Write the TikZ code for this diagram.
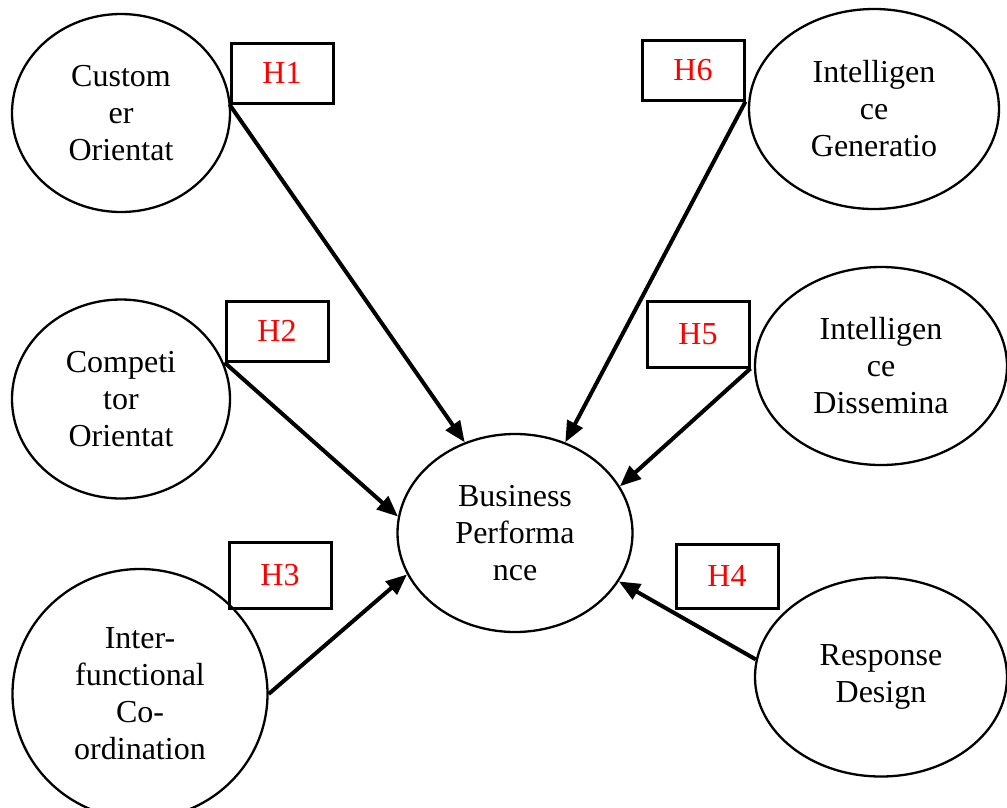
\documentclass[tikz,border=0pt]{standalone}
\usepackage{fontspec}
\setmainfont{Liberation Serif}
\usetikzlibrary{arrows.meta,shapes.geometric}

\tikzset{
  factor/.style={ellipse,draw,line width=2.3pt,inner sep=0pt,align=center,
    font=\fontsize{32}{37}\selectfont},
  hyp/.style={rectangle,draw,line width=3pt,minimum width=102pt,minimum height=62pt,
    inner sep=0pt,text=red,font=\fontsize{32}{37}\selectfont},
  link/.style={line width=4pt,-{Triangle[length=21pt,width=17pt]}}
}

\begin{document}
\begin{tikzpicture}[x=1pt,y=-1pt]
    \useasboundingbox (0,0) rectangle (1007,807);
    % nodes
    \node (co) at (121,113) [factor,minimum width=218pt,minimum height=198pt] {Custom\\er\\Orientat};
    \node (cp) at (121,399) [factor,minimum width=218pt,minimum height=199pt] {Competi\\tor\\Orientat};
    \node (ifc) at (140,694) [factor,minimum width=255pt,minimum height=250pt] {Inter-\\functional\\Co-\\ordination};
    \node (ig) at (874,109) [factor,minimum width=250pt,minimum height=200pt] {Intelligen\\ce\\Generatio};
    \node (id) at (881,366) [factor,minimum width=252pt,minimum height=198pt] {Intelligen\\ce\\Dissemina};
    \node (rd) at (881,677) [factor,minimum width=252pt,minimum height=199pt] {Response\\Design};
    \node (bp) at (515,533) [factor,minimum width=235pt,minimum height=198pt] {Business\\Performa\\nce};
    \node (h1) at (282,73) [hyp,minimum height=60pt] {H1};
    \node (h2) at (277,331) [hyp,minimum height=60pt] {H2};
    \node (h3) at (280,575) [hyp,minimum height=66pt] {H3};
    \node (h4) at (727,576) [hyp,minimum height=64pt] {H4};
    \node (h5) at (698,334) [hyp,minimum height=66pt] {H5};
    \node (h6) at (693,70) [hyp,minimum height=60pt] {H6};
    % paths
    \draw[link] (h1.south west) to (bp.119);
    \draw[link] (h2.south west) to (bp.172);
    \draw[link] (ifc.east) to (bp.201);
    \draw[link] (rd.172) to (bp.335);
    \draw[link] (h5.south east) to (bp.24);
    \draw[link] (h6.south east) to (bp.61);
\end{tikzpicture}
\end{document}
